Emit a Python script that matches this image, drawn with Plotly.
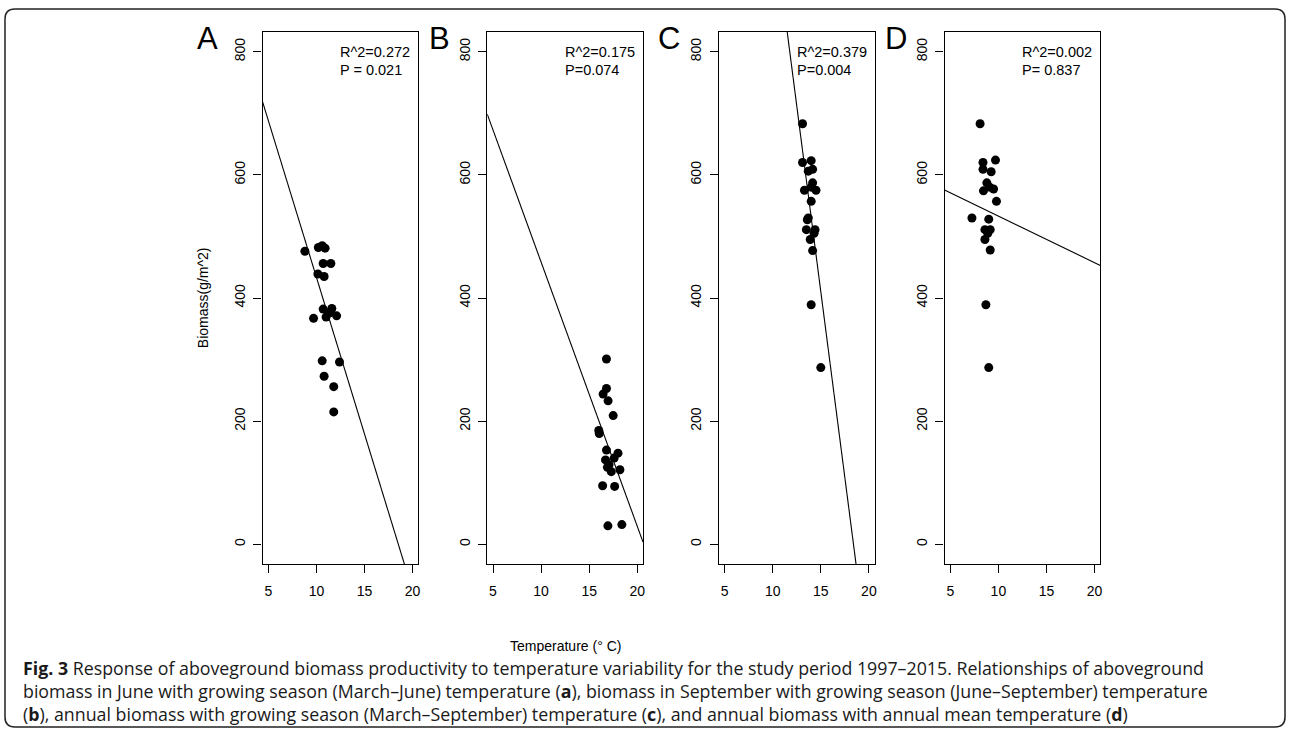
import numpy as np
import plotly.graph_objects as go

W, H = 1292, 729

# ---------------- data ----------------
panel_letters = ["A", "B", "C", "D"]
r2_labels = ["R^2=0.272", "R^2=0.175", "R^2=0.379", "R^2=0.002"]
p_labels = ["P = 0.021", "P=0.074", "P=0.004", "P= 0.837"]

temp_A = [8.8, 10.2, 10.6, 10.9, 10.7, 11.5, 10.15, 10.8, 10.7, 11.6, 11.4, 9.7, 11.0, 12.1, 10.6, 12.4, 10.8, 11.8, 11.8]
bio_A = [476, 482, 485, 481, 456, 456, 439, 435, 382, 383, 376, 367, 369, 371, 298, 296, 273, 256, 215]

temp_B = [16.8, 16.8, 16.45, 16.97, 17.5, 16.0, 16.05, 16.8, 16.7, 18.0, 17.6, 17.07, 17.3, 18.2, 16.4, 17.65, 16.95, 18.4, 16.9]
bio_B = [301, 253, 244, 233, 209, 185, 180, 153, 137, 148, 140, 129, 118, 121, 95, 94, 30, 32, 125]

temp_C = [13.1, 13.1, 14.0, 14.15, 13.7, 13.3, 14.15, 14.5, 14.0, 13.7, 13.5, 14.4, 13.9, 14.15, 14.0, 15.0, 14.0, 14.3, 13.6]
bio_C = [683, 620, 623, 609, 606, 575, 587, 575, 557, 530, 511, 511, 495, 477, 389, 287, 580, 505, 527]

temp_D = [8.1, 8.4, 9.7, 8.4, 9.25, 8.8, 8.45, 9.5, 9.1, 9.8, 7.25, 9.0, 8.6, 9.15, 8.6, 9.15, 8.7, 9.0, 8.9]
bio_D = [683, 620, 624, 609, 605, 587, 574, 577, 580, 557, 530, 528, 511, 511, 495, 478, 389, 287, 505]

fit_intercepts = [942.6, 887.4, 2220.8, 608.8]
fit_slopes = [-50.9, -42.9, -120.7, -7.57]

x_ticks = [5, 10, 15, 20]
y_ticks = [0, 200, 400, 600, 800]
x_range = [4.4, 20.6]
y_range = [-32, 832]

temps = [temp_A, temp_B, temp_C, temp_D]
bios = [bio_A, bio_B, bio_C, bio_D]

# ---------------- layout geometry (pixels) ----------------
box_left = [263, 488, 720, 946]
box_w = 156
box_top, box_bot = 32, 564
letter_x = [208, 440, 670, 897]
letter_y = 39

def px(x):
    return x / W

def py(y):
    return (H - y) / H

fig = go.Figure()
axis_font = dict(family="Liberation Sans, Arial, sans-serif", size=14, color="black")

for i in range(4):
    xa = "x" if i == 0 else f"x{i+1}"
    ya = "y" if i == 0 else f"y{i+1}"
    fig.add_trace(go.Scatter(
        x=temps[i], y=bios[i], mode="markers", xaxis=xa, yaxis=ya,
        marker=dict(color="black", size=9, line=dict(width=0)),
        showlegend=False, hoverinfo="skip"))
    lx = np.array(x_range)
    ly = fit_intercepts[i] + fit_slopes[i] * lx
    fig.add_trace(go.Scatter(
        x=lx, y=ly, mode="lines", xaxis=xa, yaxis=ya,
        line=dict(color="black", width=1.1),
        showlegend=False, hoverinfo="skip"))

    suffix = "" if i == 0 else str(i + 1)
    common = dict(showline=True, mirror=True, linecolor="black", linewidth=1.2,
                  ticks="outside", ticklen=8, tickwidth=1.2, tickcolor="black",
                  showgrid=False, zeroline=False, tickfont=axis_font)
    fig.layout["xaxis" + suffix] = dict(
        domain=[px(box_left[i]), px(box_left[i] + box_w)],
        range=x_range, tickvals=x_ticks, anchor=ya,
        ticklabelstandoff=6, **common)
    fig.layout["yaxis" + suffix] = dict(
        domain=[py(box_bot), py(box_top)],
        range=y_range, tickvals=y_ticks, anchor=xa, tickangle=-90,
        ticklabelstandoff=3, **common)

    # panel letter
    fig.add_annotation(x=px(letter_x[i]), y=py(letter_y), xref="paper", yref="paper",
                       text=panel_letters[i], showarrow=False, xanchor="center", yanchor="middle",
                       font=dict(family="Liberation Sans, Arial, sans-serif", size=31, color="black"))
    # stats text
    tx = box_left[i] + 77
    fig.add_annotation(x=px(tx), y=py(52.5), xref="paper", yref="paper",
                       text=r2_labels[i], showarrow=False, xanchor="left", yanchor="middle",
                       borderpad=0,
                       font=dict(family="Liberation Sans, Arial, sans-serif", size=14.5, color="black"))
    fig.add_annotation(x=px(tx), y=py(70), xref="paper", yref="paper",
                       text=p_labels[i], showarrow=False, xanchor="left", yanchor="middle",
                       borderpad=0,
                       font=dict(family="Liberation Sans, Arial, sans-serif", size=14.5, color="black"))

# axis titles
fig.add_annotation(x=px(203.5), y=py(298), xref="paper", yref="paper",
                   text="Biomass(g/m^2)", textangle=-90, showarrow=False,
                   xanchor="center", yanchor="middle",
                   font=dict(family="Liberation Sans, Arial, sans-serif", size=14, color="black"))
fig.add_annotation(x=px(566), y=py(646), xref="paper", yref="paper",
                   text="Temperature (° C)", showarrow=False,
                   xanchor="center", yanchor="middle", borderpad=0,
                   font=dict(family="Liberation Sans, Arial, sans-serif", size=14, color="black"))

# caption
caption_lines = [
    "<b>Fig. 3</b> Response of aboveground biomass productivity to temperature variability for the study period 1997–2015. Relationships of aboveground",
    "biomass in June with growing season (March–June) temperature (<b>a</b>), biomass in September with growing season (June–September) temperature",
    "(<b>b</b>), annual biomass with growing season (March–September) temperature (<b>c</b>), and annual biomass with annual mean temperature (<b>d</b>)",
]
caption_y = [668, 691.2, 714.4]
for t, yy in zip(caption_lines, caption_y):
    fig.add_annotation(x=px(22.5), y=py(yy), xref="paper", yref="paper",
                       text=t, showarrow=False, xanchor="left", yanchor="middle",
                       borderpad=0,
                       font=dict(family="Open Sans, sans-serif", size=17.8, color="#1a1a1a"))

# rounded outer border
x0, x1, y0, y1, r = 5, 1287, 9, 727, 10
rx, ry = r / W, r / H
X0, X1, Y0, Y1 = px(x0), px(x1), py(y1), py(y0)
path = (f"M {X0+rx},{Y1} L {X1-rx},{Y1} Q {X1},{Y1} {X1},{Y1-ry} "
        f"L {X1},{Y0+ry} Q {X1},{Y0} {X1-rx},{Y0} "
        f"L {X0+rx},{Y0} Q {X0},{Y0} {X0},{Y0+ry} "
        f"L {X0},{Y1-ry} Q {X0},{Y1} {X0+rx},{Y1} Z")
fig.add_shape(type="path", path=path, xref="paper", yref="paper",
              line=dict(color="#222222", width=1.5), fillcolor="rgba(0,0,0,0)")

fig.update_layout(width=W, height=H, margin=dict(l=0, r=0, t=0, b=0),
                  paper_bgcolor="white", plot_bgcolor="white", showlegend=False)

fig.write_html("out.html", config={"displayModeBar": False},
               post_script="document.body.style.margin='0';document.body.style.overflow='hidden';")
